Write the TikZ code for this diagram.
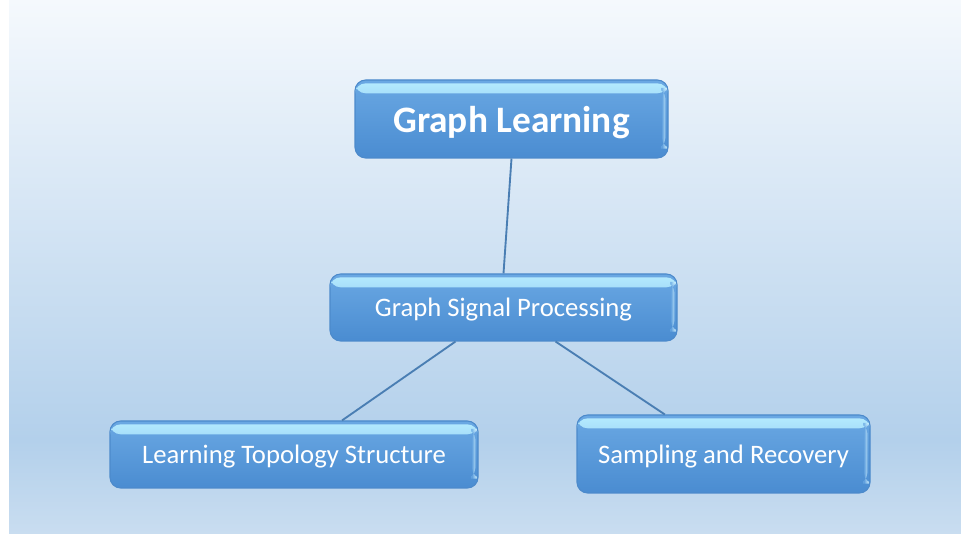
\documentclass[tikz,border=0pt]{standalone}
\usepackage{xcolor}
\usepackage{tikz}
\usepackage{fontspec}
\setmainfont{Carlito}
\usetikzlibrary{positioning,calc}

\definecolor{bgtop}{HTML}{F5F9FD}
\definecolor{bgmid}{HTML}{B3D0EB}
\definecolor{bgbot}{HTML}{C9DDF0}
\definecolor{boxtop}{HTML}{6AA8E3}
\definecolor{boxbot}{HTML}{4A8CD1}
\definecolor{boxedge}{HTML}{4C8ACB}
\definecolor{glint}{HTML}{B6ECFF}
\definecolor{wire}{HTML}{4A7EB3}

\begin{document}
\begin{tikzpicture}[x=0.75pt,y=-0.75pt,
    topic/.style={draw=boxedge, line width=0.8pt, rounded corners=8pt,
        top color=boxtop, bottom color=boxbot, text=white,
        inner sep=0pt, text depth=0pt, font=\fontsize{20}{24}\selectfont,
        path picture={
            \shade[top color=glint, bottom color=boxtop]
                ([yshift=-2.5pt]path picture bounding box.north west)
                rectangle ([yshift=-10pt]path picture bounding box.north east);
            \shade[left color=boxtop, right color=glint!60!white, opacity=0.7]
                ([xshift=-4.5pt,yshift=-6pt]path picture bounding box.north east)
                rectangle ([xshift=-2pt,yshift=7pt]path picture bounding box.south east);
        }},
    link/.style={draw=wire, line width=1.4pt}]
    \useasboundingbox (0,0) rectangle (961,534);

    % Backdrop
    \shade[top color=bgtop, bottom color=bgmid] (9,0) rectangle (961,440);
    \shade[top color=bgmid, bottom color=bgbot] (9,440) rectangle (961,534);

    % Topics
    \node[topic, minimum width=313*0.75pt, minimum height=78*0.75pt,
          font=\fontsize{28}{32}\selectfont\bfseries] (gl) at (511.5,119) {Graph Learning};
    \node[topic, minimum width=347*0.75pt, minimum height=67*0.75pt] (gsp) at (503.5,307.5) {Graph Signal Processing};
    \node[topic, minimum width=368*0.75pt, minimum height=67*0.75pt] (lts) at (294,454.5) {Learning Topology Structure};
    \node[topic, minimum width=293*0.75pt, minimum height=78*0.75pt] (sr) at (723.5,454) {Sampling and Recovery};

    % Links
    \draw[link] (gl.south) -- (gsp.north);
    \draw[link] ([xshift=-36pt]gsp.south) -- ([xshift=36pt]lts.north);
    \draw[link] ([xshift=39pt]gsp.south) -- ([xshift=-44pt]sr.north);
\end{tikzpicture}
\end{document}
